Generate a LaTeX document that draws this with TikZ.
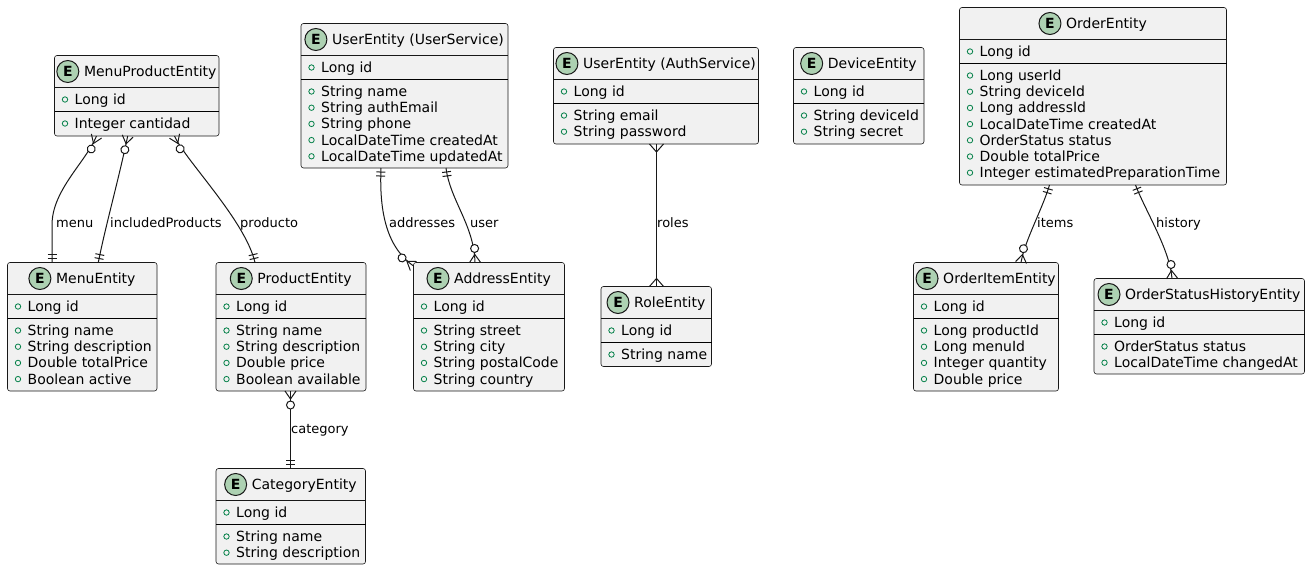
\documentclass[tikz,border=0pt]{standalone}
\usepackage{fontspec}
\setmainfont{DejaVu Sans}
\usetikzlibrary{calc,decorations.markings}
\definecolor{boxfill}{HTML}{F1F1F1}
\definecolor{boxline}{HTML}{181818}
\definecolor{iconfill}{HTML}{ADD1B2}
\definecolor{attrgreen}{HTML}{038048}
\tikzset{
  ebox/.style={draw=boxline, fill=boxfill, line width=0.6pt, rounded corners=2.5pt, inner sep=0pt, outer sep=0pt},
  hsep/.style={draw=boxline, line width=0.6pt},
  bsep/.style={draw=black, line width=1pt},
  etitle/.style={anchor=base, inner sep=0pt, font=\fontsize{14}{16}\selectfont},
  attr/.style={anchor=base west, inner sep=0pt, font=\fontsize{14}{16}\selectfont},
  bullet/.style={circle, draw=attrgreen, fill=boxfill, line width=0.8pt, minimum size=5.4pt, inner sep=0pt},
  eicon/.style={circle, draw=boxline, fill=iconfill, line width=1pt, minimum size=22pt, inner sep=0pt, font=\bfseries\fontsize{14}{14}\selectfont},
  conn/.style={draw=boxline, line width=1pt},
  mk/.style={draw=boxline, line width=1pt},
  elabel/.style={anchor=base west, inner sep=0pt, font=\fontsize{13}{15}\selectfont},
  erS/.style={postaction={decorate, decoration={markings, mark=at position 0 with {#1}}}},
  erE/.style={postaction={decorate, decoration={markings, mark=at position 0.9995 with {\begin{scope}[xscale=-1]#1\end{scope}}}}},
}
\newcommand{\mkone}{\draw[mk] (4pt,-4.5pt) -- (4pt,4.5pt) (8pt,-4.5pt) -- (8pt,4.5pt);}
\newcommand{\mkzm}{\draw[mk] (0pt,-5.5pt) -- (8pt,0pt) -- (0pt,5.5pt); \draw[mk,fill=white] (14pt,0pt) circle (4pt);}
\newcommand{\mkm}{\draw[mk] (0pt,-7pt) -- (8pt,0pt) -- (0pt,7pt);}
% #1 name, #2 left, #3 top, #4 right, #5 bottom, #6 title, #7 key, #8 attributes
\newcommand{\erentity}[8]{%
  \node[ebox, anchor=north west, minimum width={(#4-#2)*1pt}, minimum height={(#5-#3)*1pt}] (#1) at (#2,#3) {};
  \draw[hsep] ([yshift=-32pt]#1.north west) -- ([yshift=-32pt]#1.north east);
  \draw[bsep] ([yshift=-56pt]#1.north west) -- ([yshift=-56pt]#1.north east);
  \node[etitle] (#1-t) at ([xshift=13.5pt,yshift=-21pt]#1.north) {#6};
  \node[eicon] (#1-i) at ($(#1-t.base west)+(-16pt,5pt)$) {E};
  \node[bullet] (#1-b0) at ([xshift=10.5pt,yshift=-44pt]#1.north west) {};
  \node[attr] (#1-a0) at ([xshift=20pt,yshift=-49pt]#1.north west) {#7};
  \foreach \attrtxt [count=\idx] in {#8} {
    \node[bullet] (#1-b\idx) at ([xshift=10.5pt,yshift={-68pt-(\idx-1)*16.2pt}]#1.north west) {};
    \node[attr] (#1-a\idx) at ([xshift=20pt,yshift={-73pt-(\idx-1)*16.2pt}]#1.north west) {\attrtxt};
  }
}
\begin{document}
\begin{tikzpicture}[x=1pt, y=-1pt]
\useasboundingbox (0,0) rectangle (1310,570);

\erentity{mpe}{54.5}{55.5}{219}{136}{MenuProductEntity}{Long id}{Integer cantidad}
\erentity{menu}{7.5}{262.5}{157}{391}{MenuEntity}{Long id}{String name, String description, Double totalPrice, Boolean active}
\erentity{product}{216}{262.5}{366}{391}{ProductEntity}{Long id}{String name, String description, Double price, Boolean available}
\erentity{category}{216}{468.5}{365.5}{564}{CategoryEntity}{Long id}{String name, String description}
\erentity{useru}{301}{23.5}{508}{168}{UserEntity (UserService)}{Long id}{String name, String authEmail, String phone, LocalDateTime createdAt, LocalDateTime updatedAt}
\erentity{address}{413.5}{262.5}{564.5}{391}{AddressEntity}{Long id}{String street, String city, String postalCode, String country}
\erentity{usera}{553.5}{47.5}{758.5}{144}{UserEntity (AuthService)}{Long id}{String email, String password}
\erentity{role}{601}{286.5}{711.5}{366.5}{RoleEntity}{Long id}{String name}
\erentity{device}{793.5}{47.5}{924}{144}{DeviceEntity}{Long id}{String deviceId, String secret}
\erentity{order}{959.5}{7.5}{1226.5}{185}{OrderEntity}{Long id}{Long userId, String deviceId, Long addressId, LocalDateTime createdAt, OrderStatus status, Double totalPrice, Integer estimatedPreparationTime}
\erentity{item}{913.5}{262.5}{1058.5}{391}{OrderItemEntity}{Long id}{Long productId, Long menuId, Integer quantity, Double price}
\erentity{history}{1094}{278.5}{1304.5}{374}{OrderStatusHistoryEntity}{Long id}{OrderStatus status, LocalDateTime changedAt}

% connectors
\draw[conn, erS=\mkzm, erE=\mkone] ($(mpe.south west)+(42,0)$) .. controls (86,162) and (52,190) .. (52,225) -- ($(menu.north west)+(44.5,0)$);
\draw[conn, erS=\mkzm, erE=\mkone] ($(mpe.south west)+(73.2,0)$) .. controls (119,178) and (105,228) .. ($(menu.north west)+(90.8,0)$);
\draw[conn, erS=\mkzm, erE=\mkone] ($(mpe.south west)+(120,0)$) .. controls (185,160) and (245,220) .. ($(product.north west)+(39,0)$);
\draw[conn, erS=\mkzm, erE=\mkone] ($(address.north west)+(0,3.5)$) .. controls (388,248) and (379,215) .. ($(useru.south west)+(80,0)$);
\draw[conn, erS=\mkone, erE=\mkzm] ($(useru.south west)+(145,0)$) .. controls (450,200) and (474,225) .. ($(address.north west)+(61.5,0)$);
\draw[conn, erS=\mkm, erE=\mkm] ($(usera.south west)+(103,0)$) -- ($(role.north west)+(55.5,0)$);
\draw[conn, erS=\mkone, erE=\mkzm] ($(order.south west)+(90,0)$) .. controls (1042,210) and (1025,240) .. ($(item.north west)+(107.5,0)$);
\draw[conn, erS=\mkone, erE=\mkzm] ($(order.south west)+(176,0)$) .. controls (1145,210) and (1170,250) .. ($(history.north west)+(78,0)$);
\draw[conn, erS=\mkzm, erE=\mkone] ($(product.south west)+(74.5,0)$) -- ($(category.north west)+(74.5,0)$);

% labels
\node[elabel] (lmenu) at (56,227.5) {menu};
\node[elabel] (lincl) at (110,227.5) {includedProducts};
\node[elabel] (lprod) at (240,227.5) {producto};
\node[elabel] (laddr) at (389,227.5) {addresses};
\node[elabel] (luser) at (470,227.5) {user};
\node[elabel] (lroles) at (657,227.5) {roles};
\node[elabel] (litems) at (1037,227.5) {items};
\node[elabel] (lhist) at (1156,227.5) {history};
\node[elabel] (lcat) at (291,433) {category};
\end{tikzpicture}
\end{document}
